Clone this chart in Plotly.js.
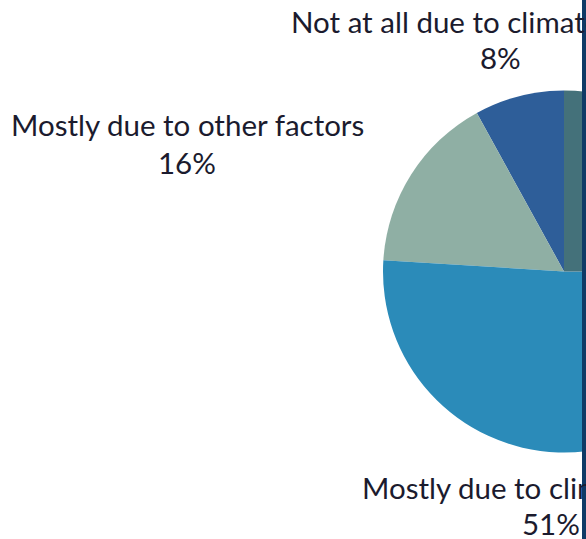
<!DOCTYPE html>
<html>
<head>
<meta charset="utf-8">
<script src="https://cdn.plot.ly/plotly-3.0.1.min.js"></script>
<style>
html,body{margin:0;padding:0;overflow:hidden;background:#fff;}
#chart{width:1200px;height:539px;}
</style>
</head>
<body>
<div id="chart"></div>
<script>
// ---- data ----
const labels = ['Not at all due to climate change', 'Mostly due to other factors', 'Mostly due to climate change', 'Equally due to climate change and other factors'];
const values = [8, 16, 51, 25];
const sliceColors = ['#2E5E99', '#8FAFA4', '#2B8BB9', '#44717A'];

// ---- layout helpers (pixel placement inside a wide canvas, window shows the left part) ----
const W = 1200, H = 539;
const cx = 564, cy = 271.5, r = 181;
const px = x => x / W;
const py = y => 1 - y / H;
const total = values.reduce((a, b) => a + b, 0);

// label placements: [labelX, labelAnchor, labelMidY, pctX, pctMidY]
const labelPos = [
  [289, 'left', 21, 500, 58],
  [187.5, 'center', 125, 187, 162.5],
  [360, 'left', 487, 551, 523]
];

const textFont = {family: 'Lato, sans-serif', size: 29.5, color: '#1b1b2e'};
const annotations = [];
labelPos.forEach((p, i) => {
  annotations.push({xref: 'paper', yref: 'paper', x: px(p[0]), y: py(p[2]), xanchor: p[1], yanchor: 'middle',
    text: labels[i], showarrow: false, font: textFont});
  annotations.push({xref: 'paper', yref: 'paper', x: px(p[3]), y: py(p[4]), xanchor: 'center', yanchor: 'middle',
    text: values[i] + '%', showarrow: false, font: textFont});
});

const trace = {
  type: 'pie',
  labels: labels,
  values: values,
  sort: false,
  direction: 'counterclockwise',
  // plotly puts the first counterclockwise slice to the right of 12 o'clock; shift so it starts there
  rotation: -values[0] / total * 360,
  textinfo: 'none',
  hoverinfo: 'skip',
  marker: {colors: sliceColors, line: {width: 0}},
  domain: {x: [px(cx - r), px(cx + r)], y: [py(cy + r), py(cy - r)]},
  showlegend: false
};

const layout = {
  width: W, height: H,
  margin: {l: 0, r: 0, t: 0, b: 0},
  paper_bgcolor: '#ffffff',
  showlegend: false,
  annotations: annotations,
  shapes: [{type: 'rect', xref: 'paper', yref: 'paper', x0: px(582), x1: px(W), y0: 0, y1: 1,
    fillcolor: '#0F3A66', line: {width: 0}, layer: 'above'}]
};

Plotly.newPlot('chart', [trace], layout, {staticPlot: true, displayModeBar: false});
</script>
</body>
</html>
